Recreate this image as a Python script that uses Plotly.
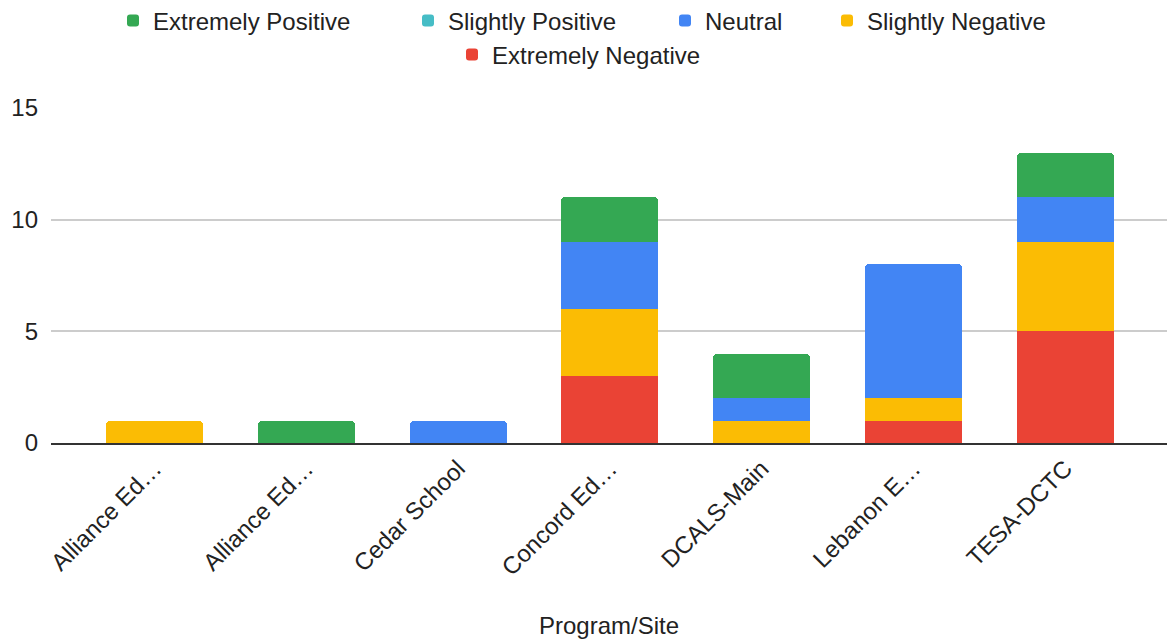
import plotly.graph_objects as go

categories = ["Alliance Ed…", "Alliance Ed…", "Cedar School", "Concord Ed…",
              "DCALS-Main", "Lebanon E…", "TESA-DCTC"]
extremely_negative = [0, 0, 0, 3, 0, 1, 5]
slightly_negative = [1, 0, 0, 3, 1, 1, 4]
neutral = [0, 0, 1, 3, 1, 6, 2]
slightly_positive = [0, 0, 0, 0, 0, 0, 0]
extremely_positive = [0, 1, 0, 2, 2, 0, 2]
y_ticks = [0, 5, 10, 15]

positions = list(range(len(categories)))

# stacking order bottom -> top; each entry gets its own legend box
series = [
    ("Extremely Negative", extremely_negative, "#EA4335", "legend5"),
    ("Slightly Negative", slightly_negative, "#FBBC04", "legend4"),
    ("Neutral", neutral, "#4285F4", "legend3"),
    ("Slightly Positive", slightly_positive, "#46BDC6", "legend2"),
    ("Extremely Positive", extremely_positive, "#34A853", "legend"),
]

FONT = "Arial, 'Liberation Sans', sans-serif"
TXT = "#222222"
fig = go.Figure()
for name, vals, color, lg in series:
    fig.add_trace(go.Bar(
        x=positions, y=vals, name=name, legend=lg,
        marker=dict(color=color, line=dict(width=0)),
        width=0.64, showlegend=True,
    ))

L, R, T, B = 51, 5, 108, 198
W, H = 1172, 641
pw = W - L - R
ph = H - T - B

def px_x(px):
    return (px - L) / pw

def px_y(py):
    return (H - B - py) / ph

legend_font = dict(family=FONT, size=24, color=TXT)
def lg(px, py):
    return dict(x=px_x(px), y=px_y(py), xanchor="left", yanchor="middle",
                orientation="h", font=legend_font, bgcolor="rgba(0,0,0,0)",
                borderwidth=0, itemclick=False, visible=True)

fig.update_layout(
    width=W, height=H,
    showlegend=True,
    margin=dict(l=L, r=R, t=T, b=B, pad=0, autoexpand=False),
    barmode="stack",
    barcornerradius=4,
    paper_bgcolor="white", plot_bgcolor="white",
    font=dict(family=FONT, size=24, color=TXT),
    legend=lg(112 + 1, 21),
    legend2=lg(407 + 1, 21),
    legend3=lg(664 + 1, 21),
    legend4=lg(826 + 1, 21),
    legend5=lg(451 + 1, 55),
    xaxis=dict(
        tickmode="array", tickvals=positions, ticktext=categories,
        tickangle=-45, range=[-0.682, 6.67],
        showgrid=False, zeroline=False,
        showline=True, linecolor="#333333", linewidth=2,
        ticks="", tickfont=dict(family=FONT, size=24, color=TXT),
        title=dict(text="Program/Site", font=dict(family=FONT, size=24, color=TXT),
                   standoff=38),
        fixedrange=True, automargin=False,
    ),
    yaxis=dict(
        range=[0, 15], tickmode="array", tickvals=y_ticks,
        showgrid=True, gridcolor="#CCCCCC", gridwidth=1.5,
        zeroline=False, showline=False, ticks="",
        ticklabelstandoff=12,
        tickfont=dict(family=FONT, size=24, color=TXT),
        fixedrange=True, automargin=False,
    ),
    bargap=0,
)

fig.write_html("out.html")
